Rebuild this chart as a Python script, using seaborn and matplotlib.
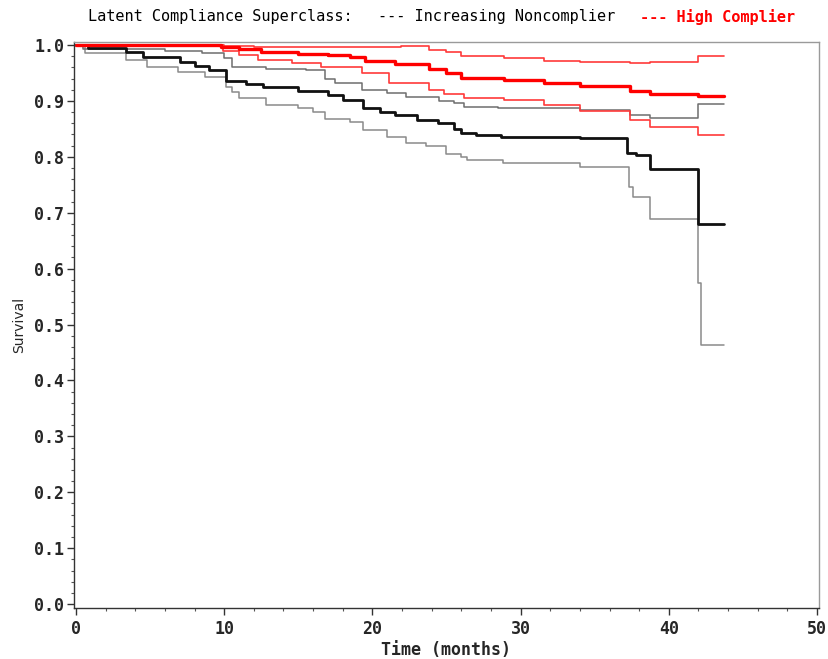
"""
plot.py

Kaplan-Meier survival curves by latent compliance superclass.
"""

import matplotlib
matplotlib.use("Agg")
import matplotlib.pyplot as plt
from matplotlib.ticker import MultipleLocator
import pandas as pd
import seaborn as sns

END_TIME = 43.7

# Increasing Noncomplier: estimate and confidence bounds
nc_est_time = [0, 0.8, 3.4, 4.5, 7.0, 8.0, 9.0, 10.1, 11.5, 12.6, 15.0, 17.0,
               18.0, 19.4, 20.5, 21.5, 23.0, 24.4, 25.5, 26.0, 27.0, 28.7,
               34.0, 37.2, 37.8, 38.7, 42.0]
nc_est_surv = [1.0, 0.995, 0.988, 0.978, 0.970, 0.962, 0.955, 0.936, 0.931,
               0.925, 0.917, 0.910, 0.902, 0.888, 0.880, 0.874, 0.866, 0.860,
               0.850, 0.843, 0.839, 0.836, 0.834, 0.807, 0.803, 0.779, 0.680]

nc_low_time = [0, 0.6, 3.4, 4.8, 6.9, 8.7, 10.1, 10.5, 11.0, 12.8, 15.0, 16.0,
               16.8, 18.5, 19.4, 21.0, 22.3, 23.6, 25.0, 26.0, 26.4, 28.8,
               34.0, 37.3, 37.6, 38.7, 42.0, 42.2]
nc_low_surv = [1.0, 0.986, 0.973, 0.960, 0.952, 0.943, 0.925, 0.916, 0.905,
               0.893, 0.887, 0.880, 0.868, 0.862, 0.848, 0.835, 0.825, 0.819,
               0.805, 0.800, 0.794, 0.789, 0.782, 0.746, 0.728, 0.689, 0.574,
               0.463]

nc_up_time = [0, 0.5, 6.0, 8.5, 10.0, 10.5, 12.8, 15.5, 16.8, 17.5, 19.3,
              21.0, 22.3, 24.5, 25.5, 26.2, 28.5, 34.0, 37.4, 38.7, 42.0]
nc_up_surv = [1.0, 0.993, 0.990, 0.986, 0.977, 0.961, 0.957, 0.955, 0.940,
              0.932, 0.920, 0.914, 0.907, 0.900, 0.896, 0.889, 0.887, 0.884,
              0.875, 0.869, 0.894]

# High Complier: estimate and confidence bounds
hc_est_time = [0, 9.8, 11.0, 12.5, 15.0, 17.0, 18.5, 19.5, 21.5, 23.8, 25.0,
               26.0, 28.9, 31.6, 34.0, 37.4, 38.7, 42.0]
hc_est_surv = [1.0, 0.997, 0.993, 0.988, 0.984, 0.983, 0.979, 0.972, 0.966,
               0.957, 0.950, 0.941, 0.937, 0.932, 0.927, 0.918, 0.912, 0.909]

hc_up_time = [0, 10.0, 12.0, 21.9, 23.8, 25.0, 26.0, 28.9, 31.6, 34.0, 37.4,
              38.7, 42.0]
hc_up_surv = [1.0, 0.998, 0.996, 0.998, 0.991, 0.987, 0.981, 0.977, 0.972,
              0.970, 0.968, 0.970, 0.980]

hc_low_time = [0, 9.9, 11.0, 12.3, 14.6, 16.5, 19.3, 21.1, 23.8, 24.8, 26.2,
               28.9, 31.6, 34.0, 37.4, 38.7, 42.0]
hc_low_surv = [1.0, 0.990, 0.982, 0.974, 0.967, 0.960, 0.950, 0.932, 0.920,
               0.912, 0.905, 0.902, 0.893, 0.882, 0.866, 0.853, 0.839]

x_ticks = [0, 10, 20, 30, 40, 50]
y_ticks = [0.0, 0.1, 0.2, 0.3, 0.4, 0.5, 0.6, 0.7, 0.8, 0.9, 1.0]


def step_frame(times, surv):
    """
    Build a frame for one step curve, carried on to the last follow-up time.
    """

    df = pd.DataFrame({"time": times + [END_TIME], "survival": surv + [surv[-1]]})

    return df


sns.set_style("white")
plt.rcParams["font.family"] = ["DejaVu Sans Mono", "DejaVu Sans"]

fig = plt.figure(figsize=(8.29, 6.59), dpi=100)
ax = fig.add_axes([74 / 829, 1 - 608 / 659, 745 / 829, 566 / 659])

curves = [
    (nc_low_time, nc_low_surv, "#8a8a8a", 1.1),
    (nc_up_time, nc_up_surv, "#6e6e6e", 1.1),
    (hc_up_time, hc_up_surv, "#ff3a3a", 1.2),
    (hc_low_time, hc_low_surv, "#ff3a3a", 1.2),
    (nc_est_time, nc_est_surv, "#111111", 2.0),
    (hc_est_time, hc_est_surv, "#ff0000", 2.4),
]

for times, surv, color, width in curves:
    sns.lineplot(
        data=step_frame(times, surv),
        x="time",
        y="survival",
        ax=ax,
        color=color,
        linewidth=width,
        drawstyle="steps-post",
        estimator=None,
        sort=False,
    )

ax.set_xlim(-0.13, 50.13)
ax.set_ylim(-0.007, 1.0054)

ax.set_xticks(x_ticks)
ax.set_yticks(y_ticks)
ax.set_yticklabels([f"{v:.1f}" for v in y_ticks])
ax.xaxis.set_minor_locator(MultipleLocator(2))
ax.yaxis.set_minor_locator(MultipleLocator(0.02))

ax.tick_params(which="both", bottom=True, left=True, top=False, right=False)
ax.tick_params(which="major", direction="out", length=5, width=1,
               color="#333333", labelsize=12, pad=2)
ax.tick_params(which="minor", direction="out", length=2.5, width=0.8,
               color="#555555")
ax.tick_params(axis="x", which="major", pad=4)

for label in ax.get_xticklabels() + ax.get_yticklabels():
    label.set_fontweight("bold")

for side in ["top", "right"]:
    ax.spines[side].set_color("#9a9a9a")
for side in ["left", "bottom"]:
    ax.spines[side].set_color("#333333")
for spine in ax.spines.values():
    spine.set_linewidth(1)

ax.set_xlabel("Time (months)", fontsize=12, fontweight="bold", labelpad=2)
ax.set_ylabel("Survival", fontsize=10, family="DejaVu Sans", labelpad=6)

fig.text(88 / 829, 1 - 17 / 659, "Latent Compliance Superclass:",
         fontsize=11, va="center", ha="left", color="black")
fig.text(378 / 829, 1 - 17 / 659, "--- Increasing Noncomplier",
         fontsize=11, va="center", ha="left", color="black")
fig.text(640 / 829, 1 - 17 / 659, "--- High Complier",
         fontsize=11, va="center", ha="left", color="red", fontweight="bold")

fig.savefig("out.png", dpi=100)
